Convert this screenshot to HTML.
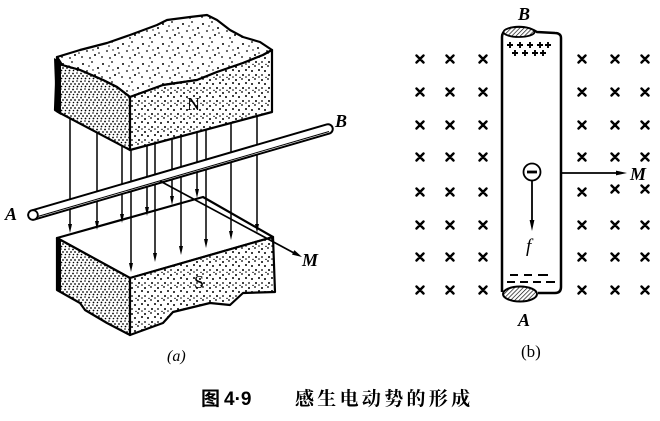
<!DOCTYPE html>
<html><head><meta charset="utf-8"><style>
html,body{margin:0;padding:0;background:#fff;}
svg{display:block;}
</style></head><body>
<svg width="660" height="421" viewBox="0 0 660 421" xmlns="http://www.w3.org/2000/svg">
<defs>
<pattern id="dl" width="20" height="20" patternUnits="userSpaceOnUse">
<rect width="20" height="20" fill="#fff"/>
<g fill="#000">
<circle cx="3" cy="4" r="1"/><circle cx="12" cy="2" r="0.9"/><circle cx="18" cy="8" r="1"/>
<circle cx="7" cy="11" r="0.9"/><circle cx="15" cy="15" r="1"/><circle cx="2" cy="17" r="0.9"/>
<circle cx="10" cy="18" r="0.9"/><circle cx="19" cy="13" r="0.8"/><circle cx="9" cy="6" r="0.8"/>
<circle cx="13" cy="10" r="0.7"/>
</g></pattern>
<pattern id="dm" width="13" height="13" patternUnits="userSpaceOnUse">
<rect width="13" height="13" fill="#fff"/>
<g fill="#000">
<circle cx="2" cy="2" r="1"/><circle cx="8" cy="1" r="0.9"/><circle cx="12" cy="5" r="1"/>
<circle cx="5" cy="6" r="1"/><circle cx="9" cy="10" r="1"/><circle cx="2" cy="10" r="0.9"/>
<circle cx="12" cy="12" r="0.8"/><circle cx="6" cy="12.5" r="0.7"/>
</g></pattern>
<pattern id="dd" width="8" height="8" patternUnits="userSpaceOnUse">
<rect width="8" height="8" fill="#fff"/>
<g fill="#000">
<circle cx="1" cy="1.5" r="0.9"/><circle cx="5" cy="1" r="0.8"/><circle cx="7" cy="4" r="0.9"/>
<circle cx="3" cy="4" r="0.9"/><circle cx="1.5" cy="6.5" r="0.8"/><circle cx="5.5" cy="6.5" r="0.9"/>
</g></pattern>
<pattern id="hatch" width="3" height="3" patternUnits="userSpaceOnUse" patternTransform="rotate(45)">
<rect width="3" height="3" fill="#fff"/>
<line x1="0" y1="0" x2="0" y2="3" stroke="#000" stroke-width="1.3"/>
</pattern>
</defs>

<!-- ===== Figure (a) ===== -->
<g stroke="#000" stroke-width="2.2" stroke-linejoin="round">
<path d="M57,57 L80,50 L107,43 L130,35 L157,25 L167,20 L190,17 L207,15 L217,20 L230,30 L243,37 L260,42 L272,50 L263,55 L243,63 L217,72 L197,80 L163,85 L130,97 L117,87 L103,80 L80,70 L62,65 Z" fill="url(#dl)"/>
<path d="M57,57 L62,65 L80,70 L103,80 L117,87 L130,97 L130,150 L60,113 L55,110 Z" fill="url(#dd)"/>
<path d="M130,97 L163,85 L197,80 L217,72 L243,63 L263,55 L272,50 L272,112 L130,150 Z" fill="url(#dm)"/>
</g>
<polygon points="54,58 61,62 61,115 56,112" fill="#000"/>
<text x="187" y="110" font-family="Liberation Serif, serif" font-size="18" fill="#000">N</text>

<g stroke="#000" stroke-width="2.2" stroke-linejoin="round">
<path d="M57,238 L203,197 L273,237 L130,278 Z" fill="#fff"/>
<path d="M57,238 L130,278 L130,335 L107,323 L85,310 L80,303 L57,290 Z" fill="url(#dd)"/>
<path d="M130,278 L273,237 L275,292 L243,293 L230,305 L210,303 L173,312 L163,323 L130,335 Z" fill="url(#dm)"/>
</g>
<polygon points="56,238 61,241 61,292 56,290" fill="#000"/>
<text x="194" y="288" font-family="Liberation Serif, serif" font-size="18" fill="#000">S</text>

<g stroke="#000" stroke-width="1.5">
<line x1="70" y1="118" x2="70" y2="228"/>
<line x1="97" y1="132" x2="97" y2="225"/>
<line x1="122" y1="146" x2="122" y2="218"/>
<line x1="131" y1="150" x2="131" y2="267"/>
<line x1="147" y1="145" x2="147" y2="211"/>
<line x1="155" y1="143" x2="155" y2="257"/>
<line x1="172" y1="139" x2="172" y2="200"/>
<line x1="181" y1="136" x2="181" y2="250"/>
<line x1="197" y1="132" x2="197" y2="193"/>
<line x1="206" y1="130" x2="206" y2="243"/>
<line x1="231" y1="123" x2="231" y2="235"/>
<line x1="257" y1="116" x2="257" y2="228"/>
</g>
<g fill="#000">
<polygon points="68,224 72,224 70,233"/>
<polygon points="95,221 99,221 97,230"/>
<polygon points="120,214 124,214 122,223"/>
<polygon points="129,263 133,263 131,272"/>
<polygon points="145,207 149,207 147,216"/>
<polygon points="153,253 157,253 155,262"/>
<polygon points="170,196 174,196 172,205"/>
<polygon points="179,246 183,246 181,255"/>
<polygon points="195,189 199,189 197,198"/>
<polygon points="204,239 208,239 206,248"/>
<polygon points="229,231 233,231 231,240"/>
<polygon points="255,224 259,224 257,233"/>
</g>

<line x1="33" y1="215" x2="328" y2="129" stroke="#000" stroke-width="11.5" stroke-linecap="round"/>
<line x1="33" y1="215" x2="328" y2="129" stroke="#fff" stroke-width="7.5" stroke-linecap="round"/>
<line x1="36" y1="217" x2="329" y2="131.5" stroke="#000" stroke-width="1"/>
<circle cx="33" cy="215" r="4.8" fill="#fff" stroke="#000" stroke-width="1.8"/>

<line x1="160" y1="181" x2="294" y2="253" stroke="#000" stroke-width="1.7"/>
<polygon points="302,257 292,254.6 294.4,250.1" fill="#000"/>

<g font-family="Liberation Serif, serif" font-style="italic" font-weight="bold" font-size="18" fill="#000">
<text x="5" y="220">A</text>
<text x="335" y="127">B</text>
<text x="302" y="266">M</text>
</g>
<text x="167" y="361" font-family="Liberation Serif, serif" font-style="italic" font-size="16" fill="#000">(a)</text>

<!-- ===== Figure (b) ===== -->
<g stroke="#000" stroke-width="2.4" stroke-linecap="round">
<path d="M416.5,55.5 L423.5,62.5 M423.5,55.5 L416.5,62.5 M446.5,55.5 L453.5,62.5 M453.5,55.5 L446.5,62.5 M479.5,55.5 L486.5,62.5 M486.5,55.5 L479.5,62.5 M578.5,55.5 L585.5,62.5 M585.5,55.5 L578.5,62.5 M611.5,55.5 L618.5,62.5 M618.5,55.5 L611.5,62.5 M641.5,55.5 L648.5,62.5 M648.5,55.5 L641.5,62.5"/>
<path d="M416.5,88.5 L423.5,95.5 M423.5,88.5 L416.5,95.5 M446.5,88.5 L453.5,95.5 M453.5,88.5 L446.5,95.5 M479.5,88.5 L486.5,95.5 M486.5,88.5 L479.5,95.5 M578.5,88.5 L585.5,95.5 M585.5,88.5 L578.5,95.5 M611.5,88.5 L618.5,95.5 M618.5,88.5 L611.5,95.5 M641.5,88.5 L648.5,95.5 M648.5,88.5 L641.5,95.5"/>
<path d="M416.5,121.5 L423.5,128.5 M423.5,121.5 L416.5,128.5 M446.5,121.5 L453.5,128.5 M453.5,121.5 L446.5,128.5 M479.5,121.5 L486.5,128.5 M486.5,121.5 L479.5,128.5 M578.5,121.5 L585.5,128.5 M585.5,121.5 L578.5,128.5 M611.5,121.5 L618.5,128.5 M618.5,121.5 L611.5,128.5 M641.5,121.5 L648.5,128.5 M648.5,121.5 L641.5,128.5"/>
<path d="M416.5,153.5 L423.5,160.5 M423.5,153.5 L416.5,160.5 M446.5,153.5 L453.5,160.5 M453.5,153.5 L446.5,160.5 M479.5,153.5 L486.5,160.5 M486.5,153.5 L479.5,160.5 M578.5,153.5 L585.5,160.5 M585.5,153.5 L578.5,160.5 M611.5,153.5 L618.5,160.5 M618.5,153.5 L611.5,160.5 M641.5,153.5 L648.5,160.5 M648.5,153.5 L641.5,160.5"/>
<path d="M416.5,188.5 L423.5,195.5 M423.5,188.5 L416.5,195.5 M446.5,188.5 L453.5,195.5 M453.5,188.5 L446.5,195.5 M479.5,188.5 L486.5,195.5 M486.5,188.5 L479.5,195.5 M578.5,188.5 L585.5,195.5 M585.5,188.5 L578.5,195.5 M611.5,185.5 L618.5,192.5 M618.5,185.5 L611.5,192.5 M641.5,185.5 L648.5,192.5 M648.5,185.5 L641.5,192.5"/>
<path d="M416.5,221.5 L423.5,228.5 M423.5,221.5 L416.5,228.5 M446.5,221.5 L453.5,228.5 M453.5,221.5 L446.5,228.5 M479.5,221.5 L486.5,228.5 M486.5,221.5 L479.5,228.5 M578.5,221.5 L585.5,228.5 M585.5,221.5 L578.5,228.5 M611.5,221.5 L618.5,228.5 M618.5,221.5 L611.5,228.5 M641.5,221.5 L648.5,228.5 M648.5,221.5 L641.5,228.5"/>
<path d="M416.5,253.5 L423.5,260.5 M423.5,253.5 L416.5,260.5 M446.5,253.5 L453.5,260.5 M453.5,253.5 L446.5,260.5 M479.5,253.5 L486.5,260.5 M486.5,253.5 L479.5,260.5 M578.5,253.5 L585.5,260.5 M585.5,253.5 L578.5,260.5 M611.5,253.5 L618.5,260.5 M618.5,253.5 L611.5,260.5 M641.5,253.5 L648.5,260.5 M648.5,253.5 L641.5,260.5"/>
<path d="M416.5,286.5 L423.5,293.5 M423.5,286.5 L416.5,293.5 M446.5,286.5 L453.5,293.5 M453.5,286.5 L446.5,293.5 M479.5,286.5 L486.5,293.5 M486.5,286.5 L479.5,293.5 M578.5,286.5 L585.5,293.5 M585.5,286.5 L578.5,293.5 M611.5,286.5 L618.5,293.5 M618.5,286.5 L611.5,293.5 M641.5,286.5 L648.5,293.5 M648.5,286.5 L641.5,293.5"/>
</g>

<path d="M502,292 L502,37 C502,30 510,27 519,27 C528,27 533,30 537,32 L555,33 C559,33 561,35 561,38 L561,287 C561,291 559,293 555,293 L538,293" fill="#fff" stroke="#000" stroke-width="2.5"/>
<ellipse cx="519" cy="32" rx="15.5" ry="5" fill="url(#hatch)" stroke="#000" stroke-width="1.8"/>
<ellipse cx="520" cy="294" rx="17" ry="7.5" fill="url(#hatch)" stroke="#000" stroke-width="2"/>

<g stroke="#000" stroke-width="1.9">
<path d="M507,45 h6 M510,42 v6 M517,45 h6 M520,42 v6 M527,45 h6 M530,42 v6 M537,45 h6 M540,42 v6 M545,45 h6 M548,42 v6"/>
<path d="M512,53 h6 M515,50 v6 M522,53 h6 M525,50 v6 M532,53 h6 M535,50 v6 M540,53 h6 M543,50 v6"/>
<path d="M510,275 h8 M524,275 h8 M538,275 h10"/>
<path d="M507,282 h8 M520,282 h8 M533,282 h8 M546,282 h9"/>
</g>

<circle cx="532" cy="172" r="8.5" fill="#fff" stroke="#000" stroke-width="1.8"/>
<line x1="527" y1="172" x2="537" y2="172" stroke="#000" stroke-width="2.8"/>
<line x1="532" y1="180.5" x2="532" y2="222" stroke="#000" stroke-width="1.8"/>
<polygon points="529.6,220 534.4,220 532,231" fill="#000"/>
<text x="526" y="252" font-family="Liberation Serif, serif" font-style="italic" font-size="19" fill="#000">f</text>

<line x1="562" y1="173" x2="618" y2="173" stroke="#000" stroke-width="1.8"/>
<polygon points="616,170.6 616,175.4 627,173" fill="#000"/>
<text x="630" y="180" font-family="Liberation Serif, serif" font-style="italic" font-weight="bold" font-size="18" fill="#000">M</text>

<g font-family="Liberation Serif, serif" font-style="italic" font-weight="bold" font-size="18" fill="#000">
<text x="518" y="20">B</text>
<text x="518" y="326">A</text>
</g>
<text x="521" y="357" font-family="Liberation Serif, serif" font-size="17" fill="#000">(b)</text>

<text x="201" y="405" font-family="Liberation Sans, 'Noto Sans CJK SC', sans-serif" font-weight="bold" font-size="19" fill="#000">图</text>
<text x="224" y="405" font-family="Liberation Sans, 'Noto Sans CJK SC', sans-serif" font-weight="bold" font-size="19" fill="#000">4·9</text>
<text x="295" y="405" font-family="Liberation Serif, 'Noto Serif CJK SC', serif" font-weight="bold" font-size="19" letter-spacing="3.3" fill="#000">感生电动势的形成</text>
</svg>
</body></html>
